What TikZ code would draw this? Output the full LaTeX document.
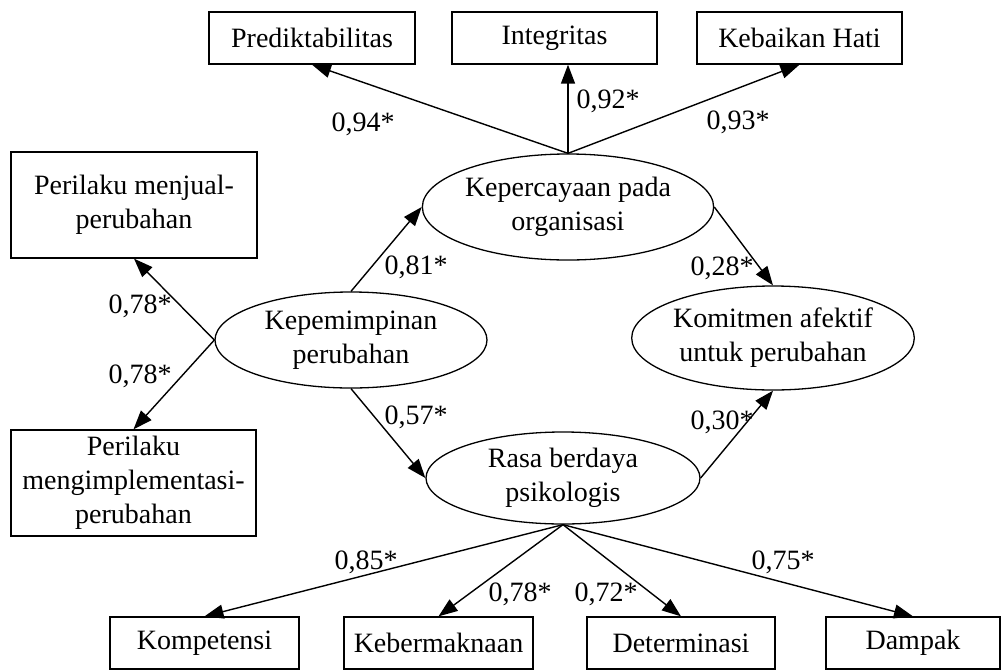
\documentclass[tikz,border=0pt]{standalone}
\usepackage{fontspec}
\setmainfont{Liberation Serif}
\usetikzlibrary{arrows.meta,shapes.geometric}
\begin{document}
\begin{tikzpicture}[x=1pt,y=-1pt,
  every node/.style={font=\fontsize{28}{34}\selectfont},
  box/.style={draw,line width=1.3pt,rectangle,inner sep=0pt,align=center},
  lat/.style={draw,line width=1.3pt,ellipse,inner sep=0pt,align=center},
  arr/.style={line width=1.4pt,-{Triangle[length=19pt,width=14pt]}},
  lab/.style={inner sep=0pt}]
\useasboundingbox (0,0) rectangle (1004,670);
% top boxes
\node[box,minimum width=206pt,minimum height=52pt] (pred) at (312,38) {Prediktabilitas};
\node[box,minimum width=205pt,minimum height=52pt] (integ) at (554.5,38) {Integritas};
\node[box,minimum width=205pt,minimum height=52pt] (keb) at (799.5,38) {Kebaikan Hati};
% left boxes
\node[box,minimum width=246pt,minimum height=106pt] (jual) at (134,205) {Perilaku menjual-\\perubahan};
\node[box,minimum width=245pt,minimum height=106pt] (impl) at (133.5,483) {Perilaku\\mengimplementasi-\\perubahan};
% bottom boxes
\node[box,minimum width=189pt,minimum height=52pt] (komp) at (204.5,643) {Kompetensi};
\node[box,minimum width=189pt,minimum height=52pt] (makna) at (438.5,643) {Kebermaknaan};
\node[box,minimum width=188pt,minimum height=52pt] (det) at (681,643) {Determinasi};
\node[box,minimum width=174pt,minimum height=52pt] (damp) at (913,643) {Dampak};
% latent
\node[lat,minimum width=272pt,minimum height=106pt] (trust) at (568,207) {Kepercayaan pada\\organisasi};
\node[lat,minimum width=272pt,minimum height=96pt] (lead) at (351,340) {Kepemimpinan\\perubahan};
\node[lat,minimum width=254pt,minimum height=104pt] (komit) at (773,338) {Komitmen afektif\\untuk perubahan};
\node[lat,minimum width=274pt,minimum height=92pt] (rasa) at (563,478) {Rasa berdaya\\psikologis};
% arrows
\draw[arr] (trust.north) -- (pred.south);
\draw[arr] (trust.north) -- (trust.north |- integ.south);
\draw[arr] (trust.north) -- (keb.south);
\draw[arr] (lead.west) -- (jual.south);
\draw[arr] (lead.west) -- (impl.north);
\draw[arr] (lead.north) -- (trust.west);
\draw[arr] (lead.south) -- (rasa.west);
\draw[arr] (trust.east) -- (komit.north);
\draw[arr] (rasa.east) -- (komit.south);
\draw[arr] (rasa.south) -- (komp.north);
\draw[arr] (rasa.south) -- (makna.north);
\draw[arr] (rasa.south) -- (det.north);
\draw[arr] (rasa.south) -- (damp.north);
% labels
\node[lab] (l1) at (363,124) {0,94*};
\node[lab] (l2) at (608,101) {0,92*};
\node[lab] (l3) at (738,122) {0,93*};
\node[lab] (l4) at (140,306) {0,78*};
\node[lab] (l5) at (140,376) {0,78*};
\node[lab] (l6) at (416,267) {0,81*};
\node[lab] (l7) at (416,417) {0,57*};
\node[lab] (l8) at (722,268) {0,28*};
\node[lab] (l9) at (722,422) {0,30*};
\node[lab] (l10) at (366,562) {0,85*};
\node[lab] (l11) at (520,594) {0,78*};
\node[lab] (l12) at (606,594) {0,72*};
\node[lab] (l13) at (783,562) {0,75*};
\end{tikzpicture}
\end{document}
